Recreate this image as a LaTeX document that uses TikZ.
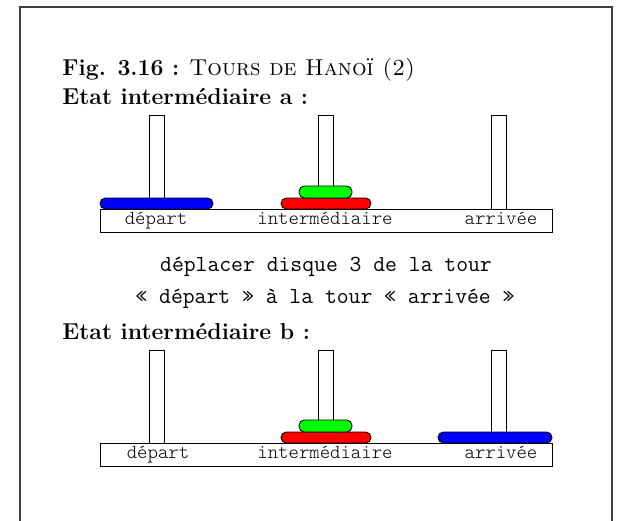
\documentclass[tikz,border=0pt]{standalone}
\usepackage{fontspec}
\newfontfamily\labfont{lmmonolt10-regular.otf}
\begin{document}
\begin{tikzpicture}[x=0.5pt,y=-0.5pt,
  frame/.style={draw=black!75, line width=0.7pt},
  pegbox/.style={draw=black, fill=white, line width=0.35pt},
  basebox/.style={draw=black, fill=white, line width=0.4pt},
  disk/.style={draw=black, line width=0.45pt, rounded corners=2.7pt},
  head/.style={anchor=base west, inner sep=0pt, font=\fontsize{11.5}{14}\selectfont},
  mono/.style={anchor=base, inner sep=0pt, font=\fontsize{11.5}{14}\selectfont\ttfamily},
  lab/.style={anchor=base, inner sep=0pt, font=\fontsize{9.9}{11}\selectfont\labfont}
]
\useasboundingbox (0,0) rectangle (632,520);
\fill[white] (0,0) rectangle (632,520);
\draw[frame] (20,521) -- (20,7) -- (612,7) -- (612,521);

\node[head] (fig) at (62,75) {\textbf{Fig. 3.16 :} \textsc{Tours de Hanoï (2)}};
\node[head] (ea) at (62,104) {\textbf{Etat intermédiaire a :}};

% state a
\draw[pegbox] (149,115) rectangle (164,209);
\draw[pegbox] (318,115) rectangle (333,209);
\draw[pegbox] (491,115) rectangle (506,209);
\draw[basebox] (100,209) rectangle (552,232);
\draw[disk, fill=blue] (100,198) rectangle (213,209);
\draw[disk, fill=red] (281,198) rectangle (371,209);
\draw[disk, fill=green] (299,186) rectangle (352,198);
\node[lab] (a1) at (156,224) {départ};
\node[lab] (a2) at (325,224) {intermédiaire};
\node[lab] (a3) at (501,224) {arrivée};

\node[mono] (m1) at (326,271) {déplacer disque 3 de la tour};
\node[mono] (m2) at (325,303) {« départ » à la tour « arrivée »};

\node[head] (eb) at (62,339) {\textbf{Etat intermédiaire b :}};

% state b
\draw[pegbox] (149,350) rectangle (164,443);
\draw[pegbox] (318,350) rectangle (333,443);
\draw[pegbox] (491,350) rectangle (506,443);
\draw[basebox] (100,443) rectangle (552,466);
\draw[disk, fill=red] (281,432) rectangle (371,443);
\draw[disk, fill=green] (299,420) rectangle (352,432);
\draw[disk, fill=blue] (438,432) rectangle (552,443);
\node[lab] (b1) at (158,458) {départ};
\node[lab] (b2) at (325,458) {intermédiaire};
\node[lab] (b3) at (501,458) {arrivée};
\end{tikzpicture}
\end{document}
